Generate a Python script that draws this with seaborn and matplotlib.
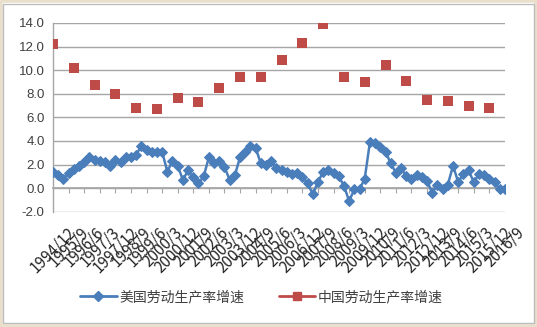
import numpy as np
import pandas as pd
import matplotlib
matplotlib.use("Agg")
import matplotlib.pyplot as plt
from matplotlib.lines import Line2D
from matplotlib.patches import Rectangle
import seaborn as sns

# ---- data ----
tick_labels = ["1994/12", "1995/9", "1996/6", "1997/3", "1997/12", "1998/9", "1999/6",
               "2000/3", "2000/12", "2001/9", "2002/6", "2003/3", "2003/12", "2004/9",
               "2005/6", "2006/3", "2006/12", "2007/9", "2008/6", "2009/3", "2009/12",
               "2010/9", "2011/6", "2012/3", "2012/12", "2013/9", "2014/6", "2015/3",
               "2015/12", "2016/9"]

us_growth = [1.4, 1.1, 0.8, 1.3, 1.6, 1.9, 2.2, 2.6, 2.4, 2.3,
             2.2, 1.9, 2.4, 2.2, 2.6, 2.6, 2.8, 3.6, 3.2, 3.1,
             3.1, 3.1, 1.4, 2.3, 1.9, 0.7, 1.5, 0.9, 0.4, 1.0,
             2.6, 2.1, 2.3, 1.8, 0.7, 1.1, 2.6, 3.1, 3.6, 3.4,
             2.1, 2.0, 2.3, 1.7, 1.5, 1.4, 1.2, 1.3, 0.9, 0.4,
             -0.5, 0.5, 1.4, 1.5, 1.3, 1.0, 0.2, -1.1, -0.1, -0.1,
             0.8, 3.9, 3.8, 3.5, 3.1, 2.1, 1.3, 1.7, 1.0, 0.8,
             1.1, 0.9, 0.6, -0.4, 0.3, -0.1, 0.3, 1.9, 0.5, 1.2,
             1.5, 0.5, 1.2, 1.1, 0.8, 0.5, -0.1, -0.1]

cn_growth = [12.2, 10.2, 8.7, 8.0, 6.8, 6.7, 7.6, 7.3, 8.5, 9.4, 9.4,
             10.9, 12.3, 13.9, 9.4, 9.0, 10.4, 9.1, 7.5, 7.4, 7.0, 6.8]

us_name = "美国劳动生产率增速"
cn_name = "中国劳动生产率增速"

# ---- build frames ----
n = len(us_growth)
df_us = pd.DataFrame({"q": np.arange(n), "v": us_growth})
df_cn = pd.DataFrame({"q": np.arange(0, 4 * len(cn_growth), 4), "v": cn_growth})

sns.set_theme(style="white")
plt.rcParams["font.family"] = ["Noto Sans CJK SC", "DejaVu Sans"]
plt.rcParams["xtick.bottom"] = True

us_col = "#4A7EBB"
cn_col = "#BE4B48"
txt_col = "#404040"
grid_col = "#A6A6A6"

fig = plt.figure(figsize=(5.37, 3.27), dpi=100)
fig.patch.set_facecolor("white")
fig.patches.append(Rectangle((0, 0), 1, 1, transform=fig.transFigure,
                             facecolor="none", edgecolor="#EADFCB", linewidth=4, zorder=0))
fig.patches.append(Rectangle((0.006, 0.012), 0.988, 0.976, transform=fig.transFigure,
                             facecolor="none", edgecolor="#BDBDBD", linewidth=1.0, zorder=1))

ax = fig.add_axes([0.0987, 0.3526, 0.8417, 0.5771])
ax.set_facecolor("white")

sns.lineplot(data=df_us, x="q", y="v", ax=ax, color=us_col, linewidth=1.8,
             marker="D", markersize=5, markeredgecolor=us_col, zorder=3)
sns.scatterplot(data=df_cn, x="q", y="v", ax=ax, color=cn_col, marker="s", s=58,
                edgecolor=cn_col, linewidth=0, zorder=4)

ax.set_xlim(0, n - 1)
ax.set_ylim(-2, 14)
yt = np.arange(-2, 14.1, 2)
ax.set_yticks(yt, labels=[f"{v:.1f}" for v in yt], fontsize=9.5, color=txt_col,
              family=["Liberation Sans", "DejaVu Sans"])
ax.yaxis.grid(True, color=grid_col, linewidth=1.0)
ax.xaxis.grid(False)
ax.set_axisbelow(True)

ax.set_xticks(np.arange(0, n, 3), labels=tick_labels, fontsize=8.5, color=txt_col,
              family=["Liberation Serif", "DejaVu Serif"])
ax.tick_params(axis="x", bottom=True, direction="out", length=3.5, width=0.8,
               color=grid_col, pad=22, labelrotation=45)
ax.tick_params(axis="y", left=False, length=0, pad=6)
plt.setp(ax.get_xticklabels(), ha="right", va="center", rotation_mode="anchor")
ax.set_xlabel("")
ax.set_ylabel("")

for s in ["top", "right"]:
    ax.spines[s].set_visible(False)
ax.spines["bottom"].set_position(("data", 0))
ax.spines["bottom"].set_color(grid_col)
ax.spines["left"].set_color(grid_col)
ax.spines["left"].set_linewidth(1.0)

handles = [Line2D([0], [0], color=us_col, lw=2, marker="D", markersize=5),
           Line2D([0], [0], color=cn_col, lw=2, marker="s", markersize=6)]
fig.legend(handles, [us_name, cn_name], loc="center", bbox_to_anchor=(0.487, 0.092),
           ncol=2, frameon=False, fontsize=10, handlelength=2.6, columnspacing=2.5,
           handletextpad=0.2, labelcolor=txt_col)

fig.savefig("out.png", dpi=100)
